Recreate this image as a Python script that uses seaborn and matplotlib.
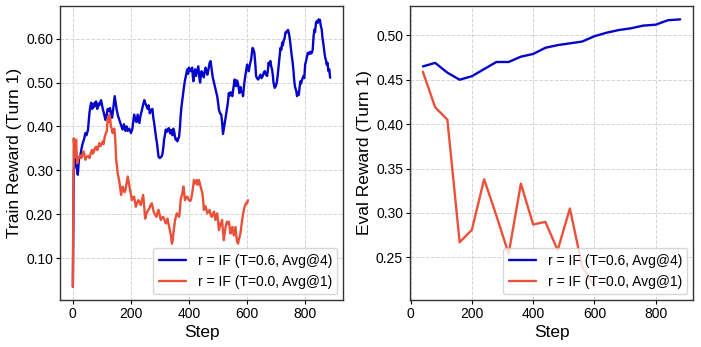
import numpy as np
import pandas as pd
import matplotlib
matplotlib.use("Agg")
import matplotlib.pyplot as plt
import seaborn as sns
from matplotlib.ticker import FormatStrFormatter, MultipleLocator

# ---- train reward (turn 1), (step, value) ----
train_blue = [
    (0, .035), (3, .300), (8, .330), (12, .310), (17, .290), (21, .325), (26, .335), (30, .350), (34, .362),
    (39, .372), (43, .385), (47, .380), (52, .392), (57, .430), (60, .445), (63, .454), (67, .440), (70, .452),
    (74, .445), (77, .455), (80, .457), (84, .440), (87, .452), (91, .448), (94, .455), (97, .460), (100, .450),
    (103, .440), (107, .430), (112, .415), (116, .425), (120, .440), (124, .435), (128, .442), (131, .430),
    (135, .420), (139, .440), (144, .469), (147, .455), (151, .438), (155, .425), (160, .415), (165, .405),
    (171, .393), (176, .405), (181, .390), (185, .400), (189, .390), (194, .395), (200, .385), (205, .395),
    (211, .427), (215, .415), (219, .410), (223, .427), (226, .418), (229, .408), (233, .425), (238, .438),
    (242, .450), (246, .460), (250, .452), (254, .446), (258, .440), (261, .448), (265, .430), (270, .438),
    (274, .440), (277, .420), (280, .408), (283, .392), (286, .377), (290, .360), (295, .331), (299, .328),
    (303, .330), (306, .332), (309, .339), (312, .355), (314, .370), (317, .380), (320, .393), (324, .388),
    (328, .395), (331, .396), (335, .384), (339, .392), (343, .380), (346, .395), (349, .388), (352, .375),
    (354, .370), (357, .372), (360, .366), (363, .372), (366, .377), (369, .400), (371, .423), (374, .445),
    (377, .461), (380, .475), (383, .492), (386, .505), (389, .515), (392, .524), (394, .530), (397, .520),
    (400, .534), (403, .528), (406, .526), (409, .530), (411, .534), (413, .515), (415, .503), (418, .520),
    (421, .530), (424, .515), (426, .522), (429, .530), (432, .537), (435, .515), (438, .500), (441, .515),
    (443, .526), (447, .520), (451, .512), (454, .525), (457, .534), (460, .527), (463, .518), (467, .530),
    (471, .545), (474, .549), (477, .535), (480, .520), (482, .511), (486, .500), (489, .492), (493, .480),
    (497, .469), (500, .455), (503, .438), (507, .430), (511, .427), (514, .410), (517, .383), (520, .395),
    (523, .408), (526, .420), (530, .438), (534, .455), (537, .476), (540, .470), (543, .478), (546, .474),
    (549, .469), (553, .488), (557, .507), (560, .495), (562, .492), (565, .505), (568, .500), (571, .488),
    (574, .476), (577, .490), (579, .480), (583, .480), (586, .469), (589, .490), (592, .507), (595, .520),
    (597, .530), (600, .541), (603, .532), (606, .526), (608, .535), (611, .545), (614, .553), (617, .570),
    (619, .579), (622, .575), (625, .568), (628, .545), (631, .515), (634, .510), (638, .507), (642, .512),
    (646, .518), (650, .510), (654, .515), (657, .522), (661, .526), (665, .518), (669, .515), (672, .530),
    (674, .545), (677, .540), (680, .549), (683, .537), (686, .530), (689, .515), (691, .500), (695, .488),
    (699, .492), (703, .503), (706, .520), (709, .541), (712, .560), (715, .579), (718, .575), (721, .591),
    (723, .585), (726, .596), (729, .600), (732, .614), (735, .614), (738, .618), (741, .620), (744, .612),
    (747, .600), (751, .576), (754, .560), (757, .545), (760, .525), (762, .507), (765, .490), (769, .482),
    (772, .469), (775, .478), (778, .472), (781, .490), (784, .503), (786, .498), (790, .508), (794, .515),
    (797, .510), (800, .541), (804, .552), (809, .568), (813, .565), (817, .570), (820, .566), (823, .568),
    (826, .575), (829, .606), (832, .621), (834, .615), (837, .635), (840, .640), (843, .636), (846, .644),
    (849, .640), (851, .643), (853, .632), (857, .621), (860, .600), (863, .587), (866, .570), (869, .557),
    (872, .550), (874, .541), (877, .545), (880, .526), (883, .530), (886, .511),
]
train_red = [
    (0, .035), (3, .373), (6, .345), (9, .330), (11, .370), (13, .340), (15, .316), (18, .325), (21, .330),
    (25, .334), (29, .328), (33, .335), (37, .343), (40, .335), (43, .324), (46, .330), (49, .331), (53, .333),
    (57, .328), (61, .338), (66, .347), (69, .338), (72, .342), (76, .350), (80, .354), (84, .346), (87, .352),
    (91, .362), (95, .355), (99, .360), (103, .366), (106, .360), (110, .377), (114, .385), (117, .390),
    (120, .419), (123, .410), (126, .427), (129, .415), (131, .400), (134, .395), (137, .385), (140, .392),
    (143, .395), (146, .370), (149, .324), (152, .310), (154, .293), (157, .285), (160, .274), (163, .260),
    (166, .244), (169, .255), (171, .263), (174, .258), (178, .250), (181, .255), (185, .270), (189, .286),
    (193, .270), (197, .255), (200, .245), (203, .232), (207, .238), (211, .240), (214, .228), (217, .217),
    (221, .225), (226, .232), (230, .228), (234, .221), (238, .232), (242, .244), (246, .215), (249, .190),
    (252, .198), (254, .202), (258, .208), (263, .213), (267, .220), (272, .225), (276, .212), (280, .202),
    (284, .198), (288, .194), (291, .203), (295, .210), (299, .198), (303, .187), (307, .192), (311, .194),
    (315, .188), (320, .179), (323, .183), (326, .190), (330, .176), (334, .164), (338, .150), (341, .133),
    (344, .140), (346, .156), (349, .172), (352, .187), (355, .195), (358, .202), (362, .198), (366, .194),
    (369, .212), (371, .232), (374, .240), (377, .248), (379, .255), (381, .263), (384, .245), (386, .232),
    (390, .238), (394, .240), (397, .236), (400, .232), (403, .230), (406, .232), (409, .240), (411, .248),
    (414, .262), (417, .278), (420, .270), (423, .274), (426, .278), (429, .267), (432, .275), (434, .278),
    (437, .270), (440, .263), (443, .255), (446, .248), (449, .230), (451, .210), (454, .215), (457, .218),
    (460, .210), (463, .202), (467, .206), (471, .210), (474, .200), (478, .194), (482, .200), (486, .206),
    (489, .195), (491, .187), (494, .195), (497, .202), (500, .185), (503, .164), (506, .172), (509, .179),
    (512, .183), (514, .187), (517, .160), (520, .141), (523, .158), (526, .171), (529, .180), (531, .183),
    (534, .178), (537, .183), (540, .170), (543, .156), (546, .165), (549, .171), (552, .160), (554, .152),
    (557, .162), (560, .171), (563, .150), (566, .137), (569, .133), (571, .141), (574, .148), (577, .156),
    (580, .172), (583, .187), (586, .200), (589, .210), (592, .218), (594, .221), (597, .226), (600, .225),
    (603, .232),
]

# ---- eval reward (turn 1) ----
eval_blue_step = [40, 80, 120, 160, 200, 240, 280, 320, 360, 400, 440, 480, 520, 560, 600, 640, 680, 720,
                  760, 800, 840, 880]
eval_blue_val = [0.465, 0.469, 0.458, 0.450, 0.454, 0.462, 0.470, 0.470, 0.476, 0.479, 0.486, 0.489, 0.491,
                 0.493, 0.499, 0.503, 0.506, 0.508, 0.511, 0.512, 0.517, 0.518]
eval_red_step = [40, 80, 120, 160, 200, 240, 280, 320, 360, 400, 440, 480, 520, 560, 600]
eval_red_val = [0.459, 0.419, 0.405, 0.267, 0.281, 0.338, 0.297, 0.254, 0.333, 0.287, 0.290, 0.258, 0.305,
                0.240, 0.217]

label_blue = "r = IF (T=0.6, Avg@4)"
label_red = "r = IF (T=0.0, Avg@1)"
BLUE = "#0505CC"
RED = "#EB5039"

train_blue_step, train_blue_val = map(list, zip(*train_blue))
train_red_step, train_red_val = map(list, zip(*train_red))

sns.set_style("ticks", {"text.color": "black", "axes.labelcolor": "black",
                        "xtick.color": "black", "ytick.color": "black"})
plt.rcParams["font.family"] = ["Liberation Sans", "DejaVu Sans"]

fig = plt.figure(figsize=(7.01, 3.47), dpi=100)
ax1 = fig.add_axes([0.0856, 0.1354, 0.4037, 0.8473])
ax2 = fig.add_axes([0.5849, 0.1354, 0.4037, 0.8473])

sns.lineplot(x=train_blue_step, y=train_blue_val, color=BLUE, lw=1.7, label=label_blue, ax=ax1)
sns.lineplot(x=train_red_step, y=train_red_val, color=RED, lw=1.7, label=label_red, ax=ax1)
sns.lineplot(x=eval_blue_step, y=eval_blue_val, color=BLUE, lw=1.7, label=label_blue, ax=ax2)
sns.lineplot(x=eval_red_step, y=eval_red_val, color=RED, lw=1.7, label=label_red, ax=ax2)

ax1.set_ylabel("Train Reward (Turn 1)", fontsize=12.5, labelpad=3)
ax2.set_ylabel("Eval Reward (Turn 1)", fontsize=12.5, labelpad=3)
ax1.yaxis.set_major_locator(MultipleLocator(0.1))
ax2.yaxis.set_major_locator(MultipleLocator(0.05))

for ax in (ax1, ax2):
    ax.set_xlabel("Step", fontsize=12.5, labelpad=3)
    ax.xaxis.set_major_locator(MultipleLocator(200))
    ax.yaxis.set_major_formatter(FormatStrFormatter("%.2f"))
    ax.tick_params(labelsize=10, length=3, pad=2, colors="black")
    ax.grid(True, linestyle="--", color="#d4d4d4", linewidth=0.7)
    for s in ax.spines.values():
        s.set_color("#333333")
        s.set_linewidth(1.0)
    ax.legend(loc="lower right", fontsize=10, handlelength=2.0, handletextpad=0.8, borderaxespad=0.4)

fig.savefig("out.png", dpi=100)
